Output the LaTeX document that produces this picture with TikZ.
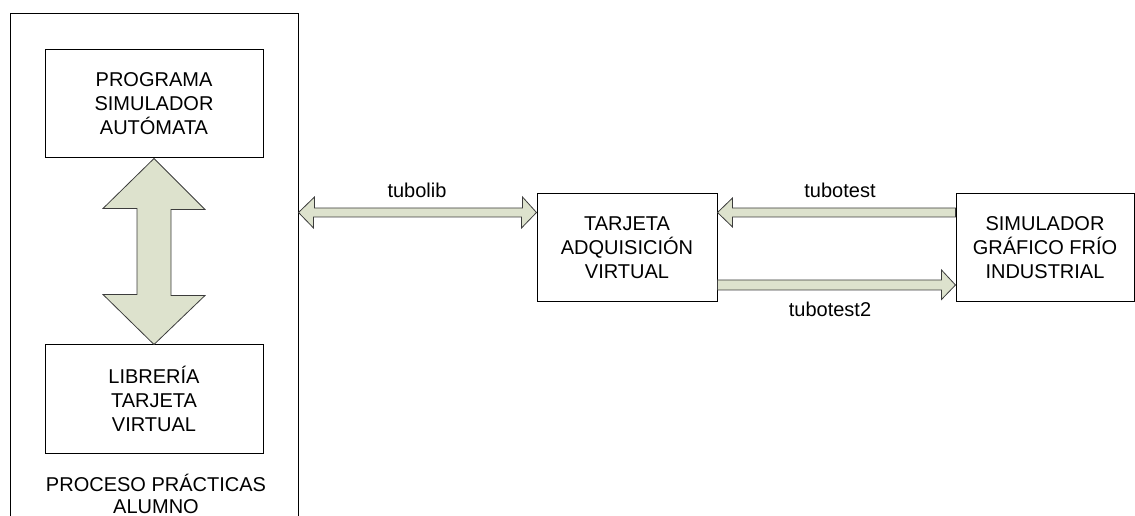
\documentclass[tikz,border=0pt]{standalone}
\usepackage{fontspec}
\setmainfont{Liberation Sans}
\usetikzlibrary{calc}
\definecolor{arrowfill}{RGB}{221,226,205}
\definecolor{arrowline}{RGB}{60,60,60}
\tikzset{
  box/.style={draw=black, line width=0.75pt, rectangle, inner sep=0pt,
    align=center, font=\fontsize{15}{18}\selectfont},
  fat/.style={draw=arrowline, fill=arrowfill, line width=0.6pt, line join=miter},
  lbl/.style={anchor=base, inner sep=0pt, font=\fontsize{15}{18}\selectfont},
}
\begin{document}
\begin{tikzpicture}[x=0.75pt, y=-0.75pt]
  \useasboundingbox (0,0) rectangle (1135,516);

  % student process frame (runs past the lower edge)
  \node[box, minimum width=288*0.75pt, minimum height=516*0.75pt] (proc) at (154,272) {};
  \node[inner sep=0pt, align=center, font=\fontsize{15}{17}\selectfont] (proclbl)
    at (156,494) {PROCESO PRÁCTICAS\\ALUMNO};

  % blocks
  \node[box, minimum width=218*0.75pt, minimum height=108*0.75pt] (prog) at (154,104)
    {PROGRAMA\\SIMULADOR\\AUTÓMATA};
  \node[box, minimum width=218*0.75pt, minimum height=108*0.75pt] (lib) at (154,399)
    {LIBRERÍA\\TARJETA\\VIRTUAL};
  \node[box, minimum width=180*0.75pt, minimum height=108*0.75pt] (card) at (627,248)
    {TARJETA\\ADQUISICIÓN\\VIRTUAL};
  \node[box, minimum width=178*0.75pt, minimum height=108*0.75pt] (sim) at (1045,248)
    {SIMULADOR\\GRÁFICO FRÍO\\INDUSTRIAL};

  % vertical double arrow between program and library
  \draw[fat] (prog.south) -- ++(51,51) -- ++(-34,0) -- ++(0,86) -- ++(34,0)
    -- (lib.north) -- ++(-51,-50) -- ++(34,0) -- ++(0,-86) -- ++(-34,0) -- cycle;

  % tubolib: double arrow between the process frame and the card
  \coordinate (tl) at ($(proc.east |- card.west)+(0,-35.5)$);
  \draw[fat] (tl) -- ++(16,-15.5) -- ++(0,11) -- ++(208,0) -- ++(0,-11)
    -- ($(card.west)+(0,-35.5)$) -- ++(-15,15.5) -- ++(0,-11) -- ++(-208,0)
    -- ++(0,11) -- cycle;
  \node[lbl] (tubolib) at (417,198) {tubolib};

  % tubotest: simulator to card
  \coordinate (tt) at ($(card.east)+(0,-35.5)$);
  \draw[fat] (tt) -- ++(15,-14.5) -- ++(0,10) -- ($(sim.west)+(0,-40)$)
    -- ($(sim.west)+(0,-31)$) -- ($(tt)+(15,4.5)$) -- ++(0,10) -- cycle;
  \node[lbl] (tubotest) at (840,198) {tubotest};

  % tubotest2: card to simulator
  \coordinate (t2) at ($(sim.west)+(0,37)$);
  \draw[fat] (t2) -- ++(-14,14.5) -- ++(0,-9.5) -- ($(card.east)+(0,42)$)
    -- ($(card.east)+(0,32)$) -- ($(t2)+(-14,-5)$) -- ++(0,-10) -- cycle;
  \node[lbl] (tubotest2) at (830,317) {tubotest2};
\end{tikzpicture}
\end{document}
